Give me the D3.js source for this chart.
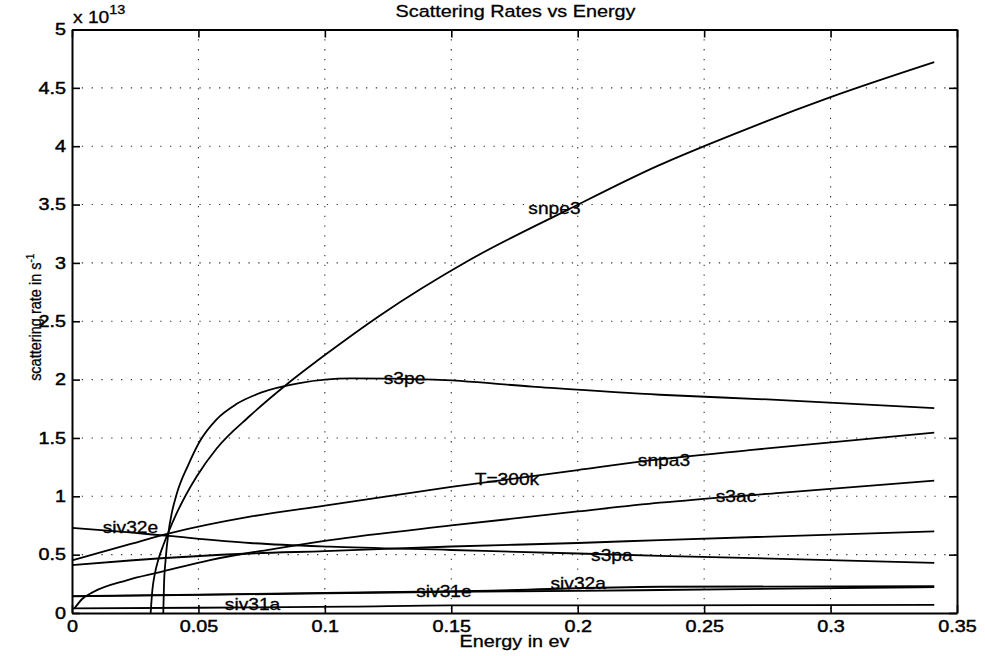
<!DOCTYPE html>
<html><head><meta charset="utf-8">
<script src="https://cdn.jsdelivr.net/npm/d3@7"></script>
<style>
body{margin:0;background:#fff}
svg{display:block}
text{font-family:"Liberation Sans",Arial,Helvetica,sans-serif;fill:#000}
</style>
</head><body>
<svg id="c" width="985" height="656"></svg>
<script>
// ---- data (energy in eV, rate in units of 1e13 s^-1) ----
const xTicks = [0, 0.05, 0.1, 0.15, 0.2, 0.25, 0.3, 0.35];
const xTickLabels = ["0", "0.05", "0.1", "0.15", "0.2", "0.25", "0.3", "0.35"];
const yTicks = [0, 0.5, 1, 1.5, 2, 2.5, 3, 3.5, 4, 4.5, 5];
const yTickLabels = ["0", "0.5", "1", "1.5", "2", "2.5", "3", "3.5", "4", "4.5", "5"];

const snpe3E = [0.0311, 0.0318, 0.0328, 0.0341, 0.0361, 0.0381, 0.0414, 0.0493, 0.0572, 0.0704, 0.085, 0.1, 0.1218, 0.156, 0.1956, 0.2325, 0.25, 0.3, 0.341];
const snpe3R = [0, 0.2, 0.34, 0.454, 0.58, 0.69, 0.855, 1.17, 1.41, 1.69, 1.96, 2.21, 2.55, 3.01, 3.45, 3.84, 4.0, 4.42, 4.72];

const s3peE = [0.0361, 0.0364, 0.037, 0.0381, 0.0395, 0.0414, 0.046, 0.0505, 0.0572, 0.065, 0.075, 0.09, 0.11, 0.143, 0.182, 0.2325, 0.275, 0.341];
const s3peR = [0, 0.25, 0.45, 0.683, 0.86, 1.02, 1.27, 1.47, 1.66, 1.79, 1.89, 1.97, 2.01, 2.0, 1.94, 1.87, 1.83, 1.755];

const snpa3E = [0, 0.0229, 0.0381, 0.0704, 0.1, 0.15, 0.2, 0.2247, 0.27, 0.341];
const snpa3R = [0.45, 0.59, 0.68, 0.825, 0.92, 1.08, 1.225, 1.297, 1.4, 1.545];

const s3acE = [0.001, 0.004, 0.0084, 0.0216, 0.0348, 0.0546, 0.08, 0.102, 0.15, 0.2, 0.2325, 0.28, 0.341];
const s3acR = [0.04, 0.12, 0.18, 0.28, 0.35, 0.454, 0.55, 0.625, 0.75, 0.87, 0.945, 1.03, 1.134];

const s3paE = [0, 0.0229, 0.0704, 0.1, 0.15, 0.2, 0.2325, 0.341];
const s3paR = [0.41, 0.45, 0.51, 0.53, 0.57, 0.6, 0.625, 0.7];

const siv32eE = [0, 0.0229, 0.0381, 0.0704, 0.102, 0.15, 0.2, 0.2325, 0.341];
const siv32eR = [0.73, 0.69, 0.66, 0.6, 0.568, 0.54, 0.51, 0.49, 0.43];

const siv31eE = [0, 0.05, 0.1, 0.15, 0.2, 0.2325, 0.341];
const siv31eR = [0.143, 0.155, 0.168, 0.182, 0.19, 0.197, 0.222];

const siv32aE = [0, 0.05, 0.1, 0.16, 0.2325, 0.341];
const siv32aR = [0.145, 0.158, 0.172, 0.19, 0.225, 0.23];

const siv31aE = [0, 0.05, 0.11, 0.15, 0.2325, 0.341];
const siv31aR = [0.04, 0.045, 0.055, 0.065, 0.066, 0.069];

const seriesNames = ["snpe3", "s3pe", "snpa3", "s3ac", "s3pa", "siv32e", "siv31e", "siv32a", "siv31a"];
const seriesE = [snpe3E, s3peE, snpa3E, s3acE, s3paE, siv32eE, siv31eE, siv32aE, siv31aE];
const seriesR = [snpe3R, s3peR, snpa3R, s3acR, s3paR, siv32eR, siv31eR, siv32aR, siv31aR];

// label texts with anchor points in data units (energy, rate)
const labelTexts = ["snpe3", "s3pe", "snpa3", "T=300k", "s3ac", "siv32e", "s3pa", "siv32a", "siv31e", "siv31a"];
const labelE = [0.1908, 0.1315, 0.2341, 0.172, 0.2626, 0.0231, 0.2135, 0.2002, 0.1471, 0.0714];
const labelR = [3.47, 2.01, 1.31, 1.14, 1.0, 0.73, 0.49, 0.255, 0.185, 0.07];

// ---- layout ----
const svg = d3.select("#c");
const L = 72, R = 957, T = 29.5, B = 613;
const SX = 1.2; // horizontal stretch of the scanned text
const x = d3.scaleLinear().domain([0, 0.35]).range([L, R]);
const y = d3.scaleLinear().domain([0, 5]).range([B, T]);

// grid
const grid = svg.append("g").attr("stroke", "#333").attr("stroke-width", 1.1).attr("stroke-dasharray", "1.3,8.5");
grid.selectAll("line.gx").data(xTicks.slice(1, -1)).join("line")
  .attr("x1", d => x(d)).attr("x2", d => x(d)).attr("y1", T).attr("y2", B);
grid.selectAll("line.gy").data(yTicks.slice(1, -1)).join("line")
  .attr("y1", d => y(d)).attr("y2", d => y(d)).attr("x1", L).attr("x2", R);

// curves
const line = d3.line().x(d => x(d[0])).y(d => y(d[1])).curve(d3.curveMonotoneX);
svg.append("g").selectAll("path").data(seriesNames).join("path")
  .attr("fill", "none").attr("stroke", "#000").attr("stroke-width", 1.8)
  .attr("stroke-linejoin", "round")
  .attr("d", (n, i) => line(seriesE[i].map((e, j) => [e, seriesR[i][j]])));

// axes
function styleAxis(g) {
  g.select(".domain").attr("stroke", "#000").attr("stroke-width", 2);
  g.selectAll(".tick line").attr("stroke", "#000").attr("stroke-width", 1.6);
  g.selectAll(".tick text").attr("font-size", 16.5).attr("font-family", "Liberation Sans, Arial, sans-serif")
    .attr("fill", "#000").attr("stroke", "#000").attr("stroke-width", 0.45)
    .attr("transform", `scale(${SX},1)`);
}
const ax = svg.append("g").attr("transform", `translate(0,${B})`)
  .call(d3.axisBottom(x).tickValues(xTicks).tickFormat((d, i) => xTickLabels[i]).tickSizeInner(-8).tickSizeOuter(0).tickPadding(7));
styleAxis(ax);
const ay = svg.append("g").attr("transform", `translate(${L},0)`)
  .call(d3.axisLeft(y).tickValues(yTicks).tickFormat((d, i) => yTickLabels[i]).tickSizeInner(-8).tickSizeOuter(0).tickPadding(5));
styleAxis(ay);
const at = svg.append("g").attr("transform", `translate(0,${T})`)
  .call(d3.axisTop(x).tickValues(xTicks).tickFormat("").tickSizeInner(-8).tickSizeOuter(0));
styleAxis(at);
const ar = svg.append("g").attr("transform", `translate(${R},0)`)
  .call(d3.axisRight(y).tickValues(yTicks).tickFormat("").tickSizeInner(-8).tickSizeOuter(0));
styleAxis(ar);

// texts
function stext(px, py, str, size, anchor) {
  return svg.append("text").attr("transform", `translate(${px},${py}) scale(${SX},1)`)
    .attr("font-size", size).attr("text-anchor", anchor || "middle")
    .attr("stroke", "#000").attr("stroke-width", 0.3).text(str);
}
stext((L + R) / 2 + 1, 17, "Scattering Rates vs Energy", 16.5);
stext((L + R) / 2, 647, "Energy in ev", 16.5);

// exponent
const ex = svg.append("text").attr("transform", `translate(73,23) scale(${SX},1)`).attr("font-size", 16)
  .attr("stroke", "#000").attr("stroke-width", 0.3);
ex.append("tspan").text("x 10");
ex.append("tspan").attr("font-size", 12).attr("dy", -9).text("13");

// y label
const yl = svg.append("text").attr("transform", `translate(41,${(T + B) / 2 - 4}) rotate(-90) scale(1,1.15)`)
  .attr("font-size", 14.5).attr("text-anchor", "middle").attr("stroke", "#000").attr("stroke-width", 0.25);
yl.append("tspan").text("scattering rate in s");
yl.append("tspan").attr("font-size", 10).attr("dy", -6).text("-1");

// curve labels (baseline positioned from data anchors)
labelTexts.forEach((t, i) => stext(x(labelE[i]), y(labelR[i]) + 5.5, t, 16));
</script>
</body></html>
